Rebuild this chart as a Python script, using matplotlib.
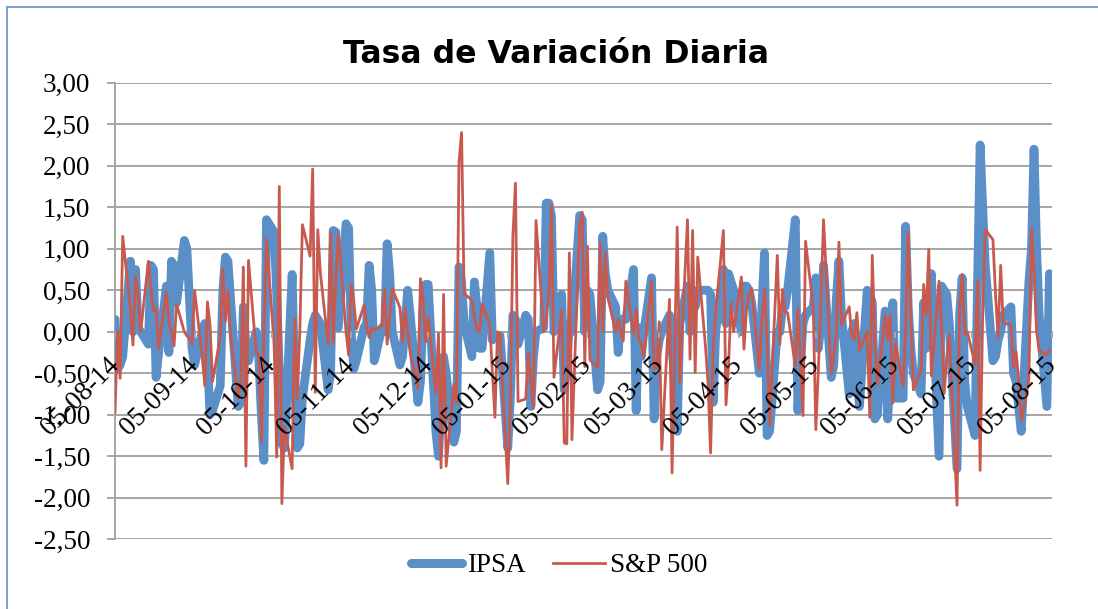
import pandas as pd
import matplotlib
matplotlib.use("Agg")
import matplotlib.pyplot as plt
from matplotlib.ticker import FuncFormatter, MultipleLocator
from matplotlib.lines import Line2D

plt.rcParams['font.family'] = ['Liberation Serif', 'DejaVu Serif']

title = 'Tasa de Variación Diaria'
series_names = ['IPSA', 'S&P 500']
start_date = '2014-08-05'
end_date = '2015-08-04'
axis_end = '2015-08-05'

# IPSA daily variation (%), one list per month window (5th to 4th)
ipsa_m01 = [0.15, -0.45, -0.40, -0.30, 0.85, 0.00, 0.75, 0.05, 0.00, -0.15, 0.80, 0.75,
            -0.55, -0.25, 0.55, -0.25, 0.85, 0.80, 0.35, 1.10, 1.00, 0.40, -0.20]
ipsa_m02 = [-0.40, 0.00, 0.10, -0.30, -1.00, -0.95, -0.65, 0.50, 0.90, 0.85, 0.40,
            -0.90, -0.85, 0.30, -0.20, -0.35, 0.00, -0.30, -1.00, -1.55, 1.35]
ipsa_m03 = [1.20, 0.45, -0.50, -1.35, -1.40, 0.69, -0.60, -1.40, -1.35, -0.80, -0.10,
            0.10, 0.20, 0.15, 0.10, -0.70, -0.50, 1.22, 1.20, 0.05, 1.30, 1.25]
ipsa_m04 = [0.00, -0.45, -0.35, 0.05, 0.10, 0.80, 0.50, -0.35, 0.05, 0.00, 1.06,
            0.70, 0.00, -0.40, -0.30, 0.10, 0.50, 0.20, -0.85, -0.60, 0.30, 0.57]
ipsa_m05 = [0.57, -1.20, -1.50, -0.90, -0.30, -0.50, -1.33, -1.20, 0.78, 0.60, 0.10,
            -0.30, 0.60, 0.30, -0.20, -0.20, 0.95, -0.10, -0.05, -0.05, -0.05]
ipsa_m06 = [-1.40, -0.80, 0.20, 0.15, -0.15, 0.20, 0.15, -0.90, -0.30, 0.00, 0.05, 1.55,
            1.55, 1.40, 0.00, 0.45, -0.70, -0.40, 0.10, 0.00, 1.40, 1.35, 0.00]
ipsa_m07 = [0.50, 0.45, -0.70, -0.60, 1.15, 0.70, 0.50, 0.30, -0.25, 0.15, 0.15, 0.15,
            0.75, -0.95, 0.05, -0.30, 0.00, 0.65, -1.05, -0.30]
ipsa_m08 = [-0.10, 0.00, 0.20, -0.20, -0.60, -1.20, 0.10, 0.55, 0.00, 0.45, 0.30,
            0.50, 0.50, 0.50, 0.45, -0.85, 0.00, 0.75, 0.10, 0.70, 0.60, 0.50]
ipsa_m09 = [0.00, 0.55, 0.55, 0.50, 0.35, -0.50, 0.30, 0.95, -1.25, -1.20, 0.00,
            0.00, 0.30, 0.30, 0.50, 1.35, -0.95, -0.40, 0.10, 0.20, 0.30]
ipsa_m10 = [0.65, -0.20, 0.10, 0.80, -0.55, -0.40, 0.40, 0.85, 0.20, -0.75, 0.00, 0.10,
            -0.50, -0.90, 0.50, 0.45, 0.35, -1.05, -1.00, 0.25, -1.05, -0.50, 0.35]
ipsa_m11 = [-0.80, -0.80, 1.27, 0.30, -0.20, -0.50, -0.75, 0.35, -0.20, 0.10, 0.70,
            -1.50, 0.55, 0.50, 0.45, 0.10, -1.65, 0.20, 0.65, -0.60, -0.90]
ipsa_m12 = [-1.25, 0.60, 2.25, 1.50, 0.80, -0.35, -0.30, -0.10, 0.00, 0.20, 0.30,
            -0.50, -0.60, -0.90, -1.20, 0.60, 1.00, 2.20, 1.00, 0.20, -0.90, 0.70]

# S&P 500 daily variation (%), same windows
spx_m01 = [-0.97, 0.00, -0.56, 1.15, 0.28, -0.16, 0.67, 0.43, 0.00, 0.85, 0.50, 0.25,
           0.29, -0.20, 0.48, 0.11, 0.00, -0.17, 0.33, 0.00, -0.05, -0.08, -0.15]
spx_m02 = [0.50, -0.31, -0.65, 0.36, 0.09, -0.60, -0.07, 0.75, 0.13, 0.49, -0.05,
           -0.80, -0.58, 0.78, -1.62, 0.86, -0.25, -0.28, -1.32, 0.00, 1.12]
spx_m03 = [-0.16, -1.51, 1.75, -2.07, -1.15, -1.65, 0.16, -0.81, 0.01, 1.29, 0.91,
           1.96, -0.73, 1.23, 0.71, -0.15, 1.19, -0.14, 0.62, 1.17, 0.00, -0.28]
spx_m04 = [0.57, 0.38, 0.03, 0.32, 0.07, -0.07, 0.05, 0.02, 0.07, 0.51, -0.15,
           0.20, 0.52, 0.29, -0.12, 0.28, 0.00, -0.25, -0.68, 0.64, 0.38, -0.12]
spx_m05 = [0.17, -0.73, -0.02, -1.64, 0.45, -1.62, -0.63, -0.85, 2.04, 2.40, 0.46,
           0.38, 0.17, 0.02, 0.00, 0.33, 0.09, -0.49, -1.03, 0.00, -0.03]
spx_m06 = [-1.83, -0.89, 1.16, 1.79, -0.84, -0.81, -0.26, -0.58, -0.92, 1.34, 0.00, 0.16,
           0.47, 1.53, -0.55, 0.26, -1.34, -1.35, 0.95, -1.30, 1.30, 1.44, -0.42]
spx_m07 = [1.03, -0.34, -0.43, 1.07, 0.00, 0.96, 0.41, 0.00, 0.16, 0.00, -0.11, 0.61,
           -0.03, 0.28, -0.08, -0.15, -0.30, 0.61, -0.45, -0.44]
spx_m08 = [0.12, -1.42, 0.39, -1.70, -0.19, 1.26, -0.61, 1.35, -0.33, 1.22, -0.49,
           0.90, -0.17, -0.61, -1.46, -0.24, 0.24, 1.22, -0.88, -0.40, 0.35, 0.00]
spx_m09 = [0.66, -0.21, 0.27, 0.45, 0.52, -0.46, 0.16, 0.51, -0.08, -1.13, 0.92,
           -0.15, 0.51, 0.24, 0.23, -0.41, 0.28, -0.37, -1.01, 1.09, 0.29]
spx_m10 = [-1.18, -0.45, 0.38, 1.35, -0.51, -0.29, -0.03, 1.08, 0.08, 0.30, -0.06, -0.09,
           0.23, -0.22, 0.00, -1.03, 0.92, -0.13, -0.63, 0.20, -0.10, 0.21, -0.86]
spx_m11 = [-0.14, -0.65, 0.04, 1.20, 0.17, -0.70, -0.46, 0.57, 0.20, 0.99, -0.53,
           0.61, 0.06, -0.74, -0.30, -0.04, -2.09, 0.27, 0.69, -0.03, 0.00]
spx_m12 = [-0.39, 0.61, -1.67, 0.23, 1.23, 1.11, 0.45, -0.07, 0.80, 0.11, 0.08,
           -0.43, -0.24, -0.57, -1.07, -0.58, 1.24, 0.73, 0.00, -0.23, -0.28, -0.22]

ipsa = (ipsa_m01 + ipsa_m02 + ipsa_m03 + ipsa_m04 + ipsa_m05 + ipsa_m06 +
        ipsa_m07 + ipsa_m08 + ipsa_m09 + ipsa_m10 + ipsa_m11 + ipsa_m12)
spx = (spx_m01 + spx_m02 + spx_m03 + spx_m04 + spx_m05 + spx_m06 +
       spx_m07 + spx_m08 + spx_m09 + spx_m10 + spx_m11 + spx_m12)

dates = pd.bdate_range(start_date, periods=len(ipsa))
tick_dates = pd.date_range(start_date, axis_end, freq=pd.DateOffset(months=1))

blue = '#5B8FC8'
red = '#C8594F'
grid_c = '#A6A6A6'
fs = 19.5

W, H = 1098, 609
fig = plt.figure(figsize=(W / 100, H / 100), dpi=100)
left, right, top, bottom = 115, 1052, 82.7, 539.3
ax = fig.add_axes([left / W, 1 - bottom / H, (right - left) / W, (bottom - top) / H])

ax.set_xlim(pd.Timestamp(start_date), pd.Timestamp(axis_end))
ax.set_ylim(-2.5, 3.0)
ax.yaxis.set_major_locator(MultipleLocator(0.5))

for v in [-2.5, -2.0, -1.5, -1.0, -0.5, 0.5, 1.0, 1.5, 2.0, 2.5, 3.0]:
    ax.axhline(v, color=grid_c, lw=1.4, zorder=0.5)

ax.plot(dates, ipsa, color=blue, lw=6.3, solid_joinstyle='round',
        solid_capstyle='round', zorder=2)
ax.plot(dates, spx[:len(dates)], color=red, lw=2.0, zorder=3)

for s in ['top', 'right']:
    ax.spines[s].set_visible(False)
ax.spines['left'].set_color(grid_c)
ax.spines['left'].set_linewidth(1.4)
ax.spines['left'].set_zorder(0.6)
ax.spines['bottom'].set_position(('data', 0))
ax.spines['bottom'].set_color(grid_c)
ax.spines['bottom'].set_linewidth(1.4)
ax.spines['bottom'].set_zorder(0.6)

def fmt(v, p):
    if abs(v) < 1e-9:
        v = 0.0
    return f"{v:.2f}".replace('.', ',')

ax.yaxis.set_major_formatter(FuncFormatter(fmt))
ax.tick_params(axis='y', direction='out', length=5.8, width=1.4, color=grid_c,
               pad=12, labelsize=fs)

ax.set_xticks(tick_dates)
ax.set_xticklabels([d.strftime('%d-%m-%y') for d in tick_dates])
ax.tick_params(axis='x', direction='out', length=4.5, width=1.4, color=grid_c,
               pad=17, labelsize=fs)
for lab in ax.get_xticklabels():
    lab.set_rotation(45)
    lab.set_ha('right')
    lab.set_va('center')
    lab.set_rotation_mode('anchor')
ax.xaxis.set_zorder(5)

fig.text(556 / W, 1 - 63 / H, title, ha='center', va='baseline', fontsize=22.7,
         fontweight='bold', family='DejaVu Sans')

handles = [Line2D([], [], color=blue, lw=6.5, solid_capstyle='round'),
           Line2D([], [], color=red, lw=2.0)]
fig.legend(handles, series_names, loc='center', bbox_to_anchor=(559 / W, 1 - 566 / H),
           ncol=2, frameon=False, prop={'family': 'Liberation Serif', 'size': fs},
           handlelength=1.9, handletextpad=0.2, columnspacing=1.0)

border = '#7AA0D2'
fig.add_artist(Line2D([6.7 / W, 6.7 / W], [0, 1 - 7.3 / H], color=border, lw=1.4))
fig.add_artist(Line2D([6.7 / W, 1], [1 - 7.3 / H, 1 - 7.3 / H], color=border, lw=1.4))

fig.savefig('out.png', dpi=100)
